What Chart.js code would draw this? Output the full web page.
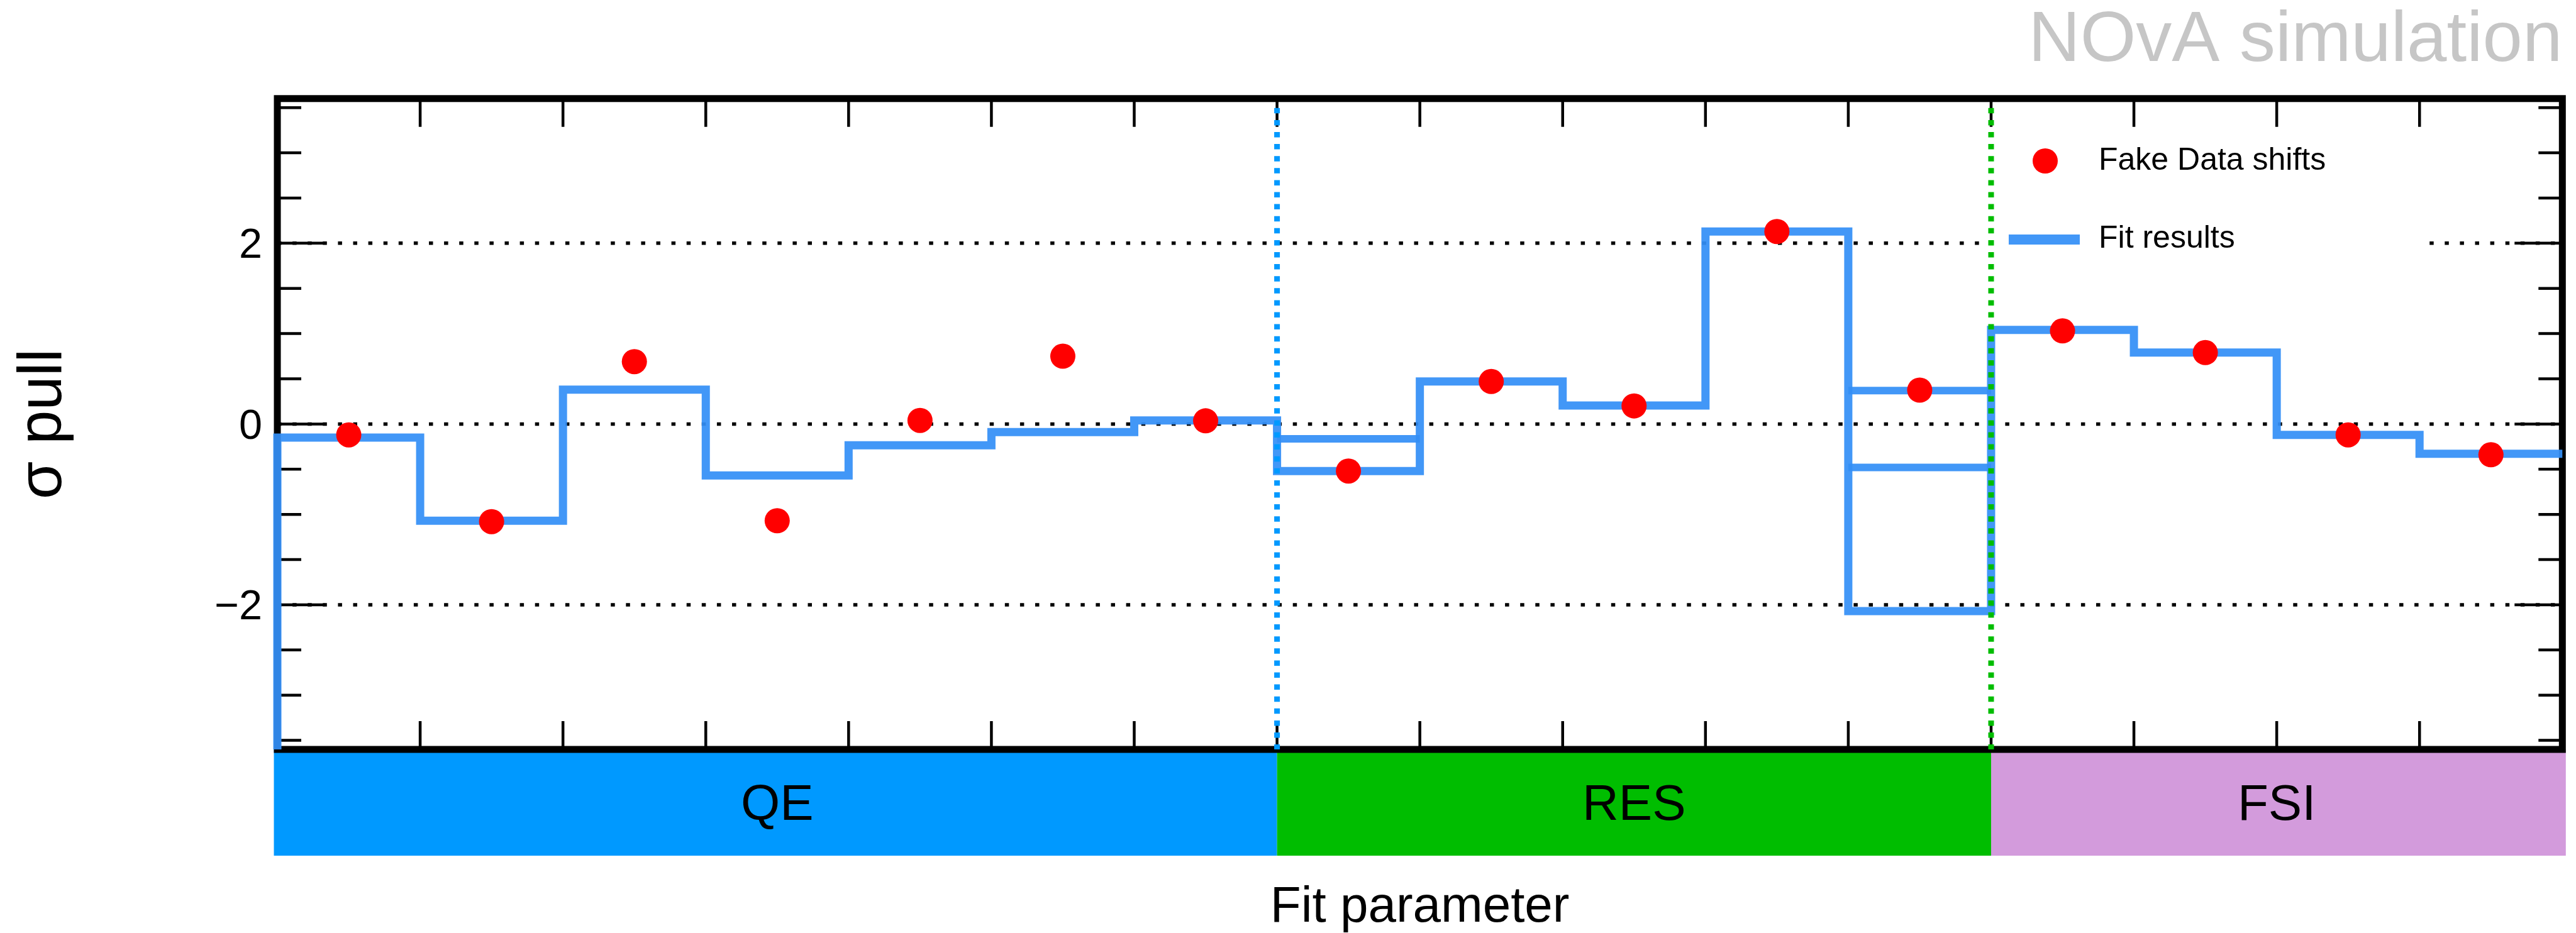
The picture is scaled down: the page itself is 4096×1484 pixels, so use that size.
<!DOCTYPE html>
<html>
<head>
<meta charset="utf-8">
<script src="https://cdn.jsdelivr.net/npm/chart.js@4.4.1/dist/chart.umd.min.js"></script>
<style>
html,body{margin:0;padding:0;background:#fff;overflow:hidden}
canvas{display:block}
</style>
</head>
<body>
<canvas id="c" width="4096" height="1484"></canvas>
<script>
// ---------------- data ----------------
const nBins = 16;
const fitResults     = [-0.15, -1.07, 0.38, -0.57, -0.235, -0.09, 0.04, -0.52, 0.47, 0.205, 2.13, -2.07, 1.04, 0.79, -0.12, -0.33];
const fakeDataShifts = [-0.12, -1.08, 0.69, -1.07, 0.04, 0.75, 0.035, -0.52, 0.47, 0.20, 2.13, 0.375, 1.03, 0.79, -0.12, -0.34];
const extraFitBins   = [8, 12, 12];
const extraFitLevels = [-0.165, 0.37, -0.48];
const groupNames = ['QE', 'RES', 'FSI'];
const groupEdges = [0, 7, 12, 16];
const yTickValues = [-2, 0, 2];
const yTickLabels = ['\u22122', '0', '2'];
const yMin = -3.6, yMax = 3.6;
const seriesNames = ['Fake Data shifts', 'Fit results'];
const xTitle = 'Fit parameter';
const yTitle = '\u03c3 pull';
const chartTitle = 'NOvA simulation';

// ---------------- style ----------------
const FONT = "'Liberation Sans', Arial, Helvetica, sans-serif";
const groupColors = ['#0099ff', '#00bd00', '#d39bdc'];
const lineColor = 'rgba(52,143,246,0.93)';
const markerColor = '#ff0000';
const W = 4096, H = 1484;
const areaLeft = 441, areaRight = 4074.3, areaTop = 156.8, areaBottom = 1192;
const frameW = 11;
const bandH = 169;

// ---------------- derived ----------------
const fitStepPoints = [{x: 0, y: yMin}];
fitResults.forEach((v, i) => { fitStepPoints.push({x: i, y: v}, {x: i + 1, y: v}); });
const extraPoints = [];
extraFitBins.forEach((b, k) => {
  extraPoints.push({x: b - 1, y: extraFitLevels[k]}, {x: b, y: extraFitLevels[k]}, {x: b, y: null});
});
const dataPoints = fakeDataShifts.map((v, i) => ({x: i + 0.5, y: v}));
const groupCenters = groupNames.map((_, g) => (groupEdges[g] + groupEdges[g + 1]) / 2);

Chart.defaults.font.family = FONT;

const deco = {
  id: 'deco',
  beforeDraw(chart) {
    const {ctx, chartArea: a, scales: {x}} = chart;
    ctx.save();
    // category band (drawn before the axis labels)
    for (let g = 0; g < groupNames.length; g++) {
      let x0 = x.getPixelForValue(groupEdges[g]);
      let x1 = x.getPixelForValue(groupEdges[g + 1]);
      if (g === 0) x0 -= frameW / 2;
      if (g === groupNames.length - 1) x1 += frameW / 2;
      ctx.fillStyle = groupColors[g];
      ctx.fillRect(x0, a.bottom, x1 - x0, bandH);
    }
    ctx.restore();
  },
  beforeDatasetsDraw(chart) {
    const {ctx, chartArea: a, scales: {x, y}} = chart;
    ctx.save();
    // dotted grid
    ctx.strokeStyle = '#000';
    ctx.lineWidth = 5.5;
    ctx.setLineDash([6.5, 17.6]);
    for (const v of yTickValues) {
      const py = y.getPixelForValue(v);
      ctx.beginPath(); ctx.moveTo(a.left, py); ctx.lineTo(a.right, py); ctx.stroke();
    }
    ctx.setLineDash([]);
    // legend box (white)
    ctx.fillStyle = '#fff';
    ctx.fillRect(3164, 180, 685, 253);
    // ticks
    ctx.strokeStyle = '#000';
    ctx.lineWidth = 4.5;
    ctx.beginPath();
    for (let k = -7; k <= 7; k++) {
      const v = k * 0.5;
      const major = yTickValues.includes(v);
      const len = major ? 76 : 38;
      const py = y.getPixelForValue(v);
      ctx.moveTo(a.left, py); ctx.lineTo(a.left + len, py);
      ctx.moveTo(a.right, py); ctx.lineTo(a.right - len, py);
    }
    for (let i = 1; i < nBins; i++) {
      const px = x.getPixelForValue(i);
      ctx.moveTo(px, a.top); ctx.lineTo(px, a.top + 45);
      ctx.moveTo(px, a.bottom); ctx.lineTo(px, a.bottom - 45);
    }
    ctx.stroke();
    // frame
    ctx.lineWidth = frameW;
    ctx.strokeRect(a.left, a.top, a.right - a.left, a.bottom - a.top);
    ctx.restore();
  },
  afterDatasetsDraw(chart) {
    const {ctx, chartArea: a, scales: {x}} = chart;
    ctx.save();
    // group separators
    ctx.lineWidth = 9;
    ctx.setLineDash([8.5, 10.6]);
    for (let g = 1; g < groupEdges.length - 1; g++) {
      const px = x.getPixelForValue(groupEdges[g]);
      ctx.strokeStyle = groupColors[g - 1];
      ctx.beginPath(); ctx.moveTo(px, a.top + 15); ctx.lineTo(px, a.bottom); ctx.stroke();
    }
    ctx.setLineDash([]);
    // legend
    ctx.fillStyle = markerColor;
    ctx.beginPath(); ctx.arc(3252, 256, 20, 0, Math.PI * 2); ctx.fill();
    ctx.strokeStyle = lineColor;
    ctx.lineWidth = 16;
    ctx.beginPath(); ctx.moveTo(3194, 381); ctx.lineTo(3307, 381); ctx.stroke();
    ctx.fillStyle = '#000';
    ctx.font = '50px ' + FONT;
    ctx.textAlign = 'left';
    ctx.textBaseline = 'middle';
    ctx.fillText(seriesNames[0], 3337, 256);
    ctx.fillText(seriesNames[1], 3337, 380);
    ctx.restore();
  }
};

new Chart(document.getElementById('c'), {
  data: {
    datasets: [
      {
        type: 'scatter', label: seriesNames[0], data: dataPoints, order: 0,
        pointRadius: 20, pointHoverRadius: 20, pointBackgroundColor: markerColor,
        pointBorderWidth: 0, pointBorderColor: markerColor
      },
      {
        type: 'line', label: seriesNames[1], data: fitStepPoints, order: 1,
        borderColor: lineColor, borderWidth: 13, pointRadius: 0, fill: false,
        tension: 0, borderJoinStyle: 'miter', borderCapStyle: 'butt', clip: false
      },
      {
        type: 'line', label: seriesNames[1] + ' (alt)', data: extraPoints, order: 2,
        borderColor: lineColor, borderWidth: 12, pointRadius: 0, fill: false,
        tension: 0, spanGaps: false, borderCapStyle: 'butt', clip: false
      }
    ]
  },
  options: {
    responsive: false,
    animation: false,
    devicePixelRatio: 1,
    events: [],
    layout: {padding: {left: 0, right: W - areaRight, top: 0, bottom: 0}},
    plugins: {
      legend: {display: false},
      tooltip: {enabled: false},
      title: {
        display: true, text: chartTitle, align: 'end', color: '#c6c6c6',
        font: {family: FONT, size: 114, lineHeight: 1, weight: 'normal'},
        padding: {top: 9, bottom: areaTop - 9 - 114}
      }
    },
    scales: {
      x: {
        type: 'linear', position: 'bottom', min: 0, max: nBins,
        afterBuildTicks: s => { s.ticks = groupCenters.map(v => ({value: v})); },
        afterFit: s => { s.height = H - areaBottom; },
        grid: {display: false, drawTicks: false},
        border: {display: false},
        ticks: {
          autoSkip: false, maxRotation: 0, minRotation: 0, padding: 50, color: '#000',
          font: {family: FONT, size: 80, lineHeight: 1},
          callback: (v, i) => groupNames[i]
        },
        title: {
          display: true, text: xTitle, color: '#000',
          font: {family: FONT, size: 80, lineHeight: 1},
          padding: {top: 0, bottom: 0}
        }
      },
      y: {
        type: 'linear', min: yMin, max: yMax,
        afterBuildTicks: s => { s.ticks = yTickValues.map(v => ({value: v})); },
        afterFit: s => { s.width = areaLeft; },
        grid: {display: false, drawTicks: false},
        border: {display: false},
        ticks: {
          padding: 24, labelOffset: 5, color: '#000',
          font: {family: FONT, size: 66.5},
          callback: (v, i) => yTickLabels[i]
        },
        title: {
          display: true, text: yTitle, color: '#000',
          font: {family: FONT, size: 97.5, lineHeight: 1.2},
          padding: {top: 11.5, bottom: 0}
        }
      }
    }
  },
  plugins: [deco]
});
</script>
</body>
</html>
